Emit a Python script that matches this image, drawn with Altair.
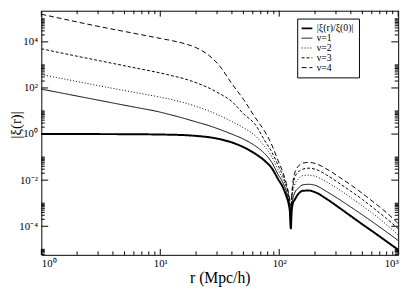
import altair as alt
import pandas as pd

# log10(r) sample positions (r in Mpc/h)
log_r = [0, 0.25, 0.5, 0.75, 1.0, 1.1, 1.2, 1.3, 1.4, 1.5, 1.6, 1.7, 1.8, 1.88, 1.94, 1.99,
         2.03, 2.06, 2.08, 2.09, 2.097, 2.104, 2.115, 2.13, 2.16, 2.2, 2.25, 2.3,
         2.4, 2.5, 2.6, 2.7, 2.8, 2.9, 3.0]

# log10 |xi|
xi0 = [0, 0, -0.002, -0.006, -0.02, -0.03, -0.045, -0.08, -0.13, -0.22, -0.36, -0.57, -0.86,
       -1.17, -1.5, -1.95, -2.3, -2.7, -3.05, -3.4, -4.1, -3.4, -3.0, -2.85, -2.6,
       -2.46, -2.45, -2.52, -2.82, -3.18, -3.55, -3.92, -4.28, -4.65, -5.02]
nu1 = [1.95, 1.7, 1.45, 1.2, 0.95, 0.82, 0.68, 0.53, 0.38, 0.2, 0.0, -0.22, -0.52,
       -0.86, -1.25, -1.75, -2.1, -2.5, -2.9, -3.2, -4.1, -3.2, -2.8, -2.55, -2.35,
       -2.2, -2.18, -2.22, -2.5, -2.82, -3.16, -3.51, -3.87, -4.24, -4.62]
nu2 = [2.58, 2.33, 2.08, 1.84, 1.6, 1.49, 1.36, 1.2, 1.02, 0.8, 0.55, 0.27, -0.08,
       -0.55, -1.0, -1.55, -1.95, -2.35, -2.8, -3.1, -4.1, -3.0, -2.5, -2.2, -1.95,
       -1.8, -1.78, -1.83, -2.08, -2.4, -2.75, -3.12, -3.5, -3.92, -4.38]
nu3 = [3.7, 3.43, 3.17, 2.91, 2.65, 2.53, 2.4, 2.23, 2.02, 1.75, 1.42, 0.88, 0.4,
       -0.3, -0.8, -1.35, -1.8, -2.25, -2.7, -3.0, -4.1, -2.9, -2.3, -1.9, -1.65,
       -1.52, -1.48, -1.52, -1.78, -2.12, -2.47, -2.84, -3.24, -3.66, -4.1]
nu4 = [5.2, 4.92, 4.65, 4.4, 4.15, 4.05, 3.93, 3.75, 3.45, 2.95, 2.2, 1.5, 0.7,
       0.1, -0.5, -1.15, -1.65, -2.15, -2.6, -2.9, -4.1, -2.8, -2.1, -1.7, -1.4,
       -1.26, -1.23, -1.27, -1.52, -1.85, -2.2, -2.58, -2.98, -3.4, -3.88]

series_names = ["|ξ(r)/ξ(0)|", "ν=1", "ν=2", "ν=3", "ν=4"]
series_vals = [xi0, nu1, nu2, nu3, nu4]
y_title = "|ξ(r)|"
x_title = "r (Mpc/h)"

x_major = [1, 10, 100, 1000]
x_minor = [j * 10 ** k for k in range(0, 3) for j in range(2, 10)]
y_major = [1e-4, 1e-2, 1, 1e2, 1e4]
y_domain = [5.75e-6, 2.24e5]
y_minor = [j * 10.0 ** (2 * m) for m in range(-3, 3) for j in range(2, 11)]
y_minor = [v for v in y_minor if y_domain[0] <= v <= y_domain[1]]

rows = []
for name, vals in zip(series_names, series_vals):
    for lr, lv in zip(log_r, vals):
        rows.append({"r": 10 ** lr, "xi": 10 ** lv, "series": name})
df = pd.DataFrame(rows)

W, H = 364, 249
FONT = "Liberation Serif"
THICK = series_names[0]

xscale = alt.Scale(type="log", domain=[1, 1000], nice=False)
yscale = alt.Scale(type="log", domain=y_domain, nice=False)

x_lab = ("datum.value < 5 ? '10⁰' : datum.value < 50 ? '10¹' : "
         "datum.value < 500 ? '10²' : '10³'")
y_lab = ("datum.value < 0.001 ? '10⁻⁴' : datum.value < 0.1 ? '10⁻²' : "
         "datum.value < 10 ? '10⁰' : datum.value < 1000 ? '10²' : '10⁴'")

xaxis = alt.Axis(values=x_major, labelExpr=x_lab, ticks=False, domain=False,
                 grid=False, labelPadding=3, labelFontSize=11,
                 title=x_title, titleFontSize=16, titlePadding=1)
yaxis = alt.Axis(values=y_major, labelExpr=y_lab, ticks=False, domain=False,
                 grid=False, labelPadding=4, labelFontSize=11, title=None)

leg = alt.Legend(title=None, orient="none", legendX=261, legendY=8,
                 symbolType="stroke", symbolSize=120,
                 symbolStrokeColor="black", fillColor="white",
                 strokeColor="black", padding=5, rowPadding=0,
                 labelFont=FONT, labelFontSize=10, labelOffset=5,
                 symbolStrokeWidth={"expr": "datum.value === '" + THICK + "' ? 2 : 1"})

lines = alt.Chart(df).mark_line(color="black", interpolate="monotone", clip=True).encode(
    x=alt.X("r:Q", scale=xscale, axis=xaxis),
    y=alt.Y("xi:Q", scale=yscale, axis=yaxis),
    strokeDash=alt.StrokeDash("series:N",
                              scale=alt.Scale(domain=series_names,
                                              range=[[1, 0], [1, 0], [1, 2], [3, 2], [5, 3]]),
                              legend=leg),
    strokeWidth=alt.condition(alt.datum.series == THICK, alt.value(2), alt.value(1)),
)


def xticks(vals, y0, y1):
    return alt.Chart(pd.DataFrame({"r": vals})).mark_rule(color="black", strokeWidth=1).encode(
        x=alt.X("r:Q", scale=xscale, axis=xaxis), y=alt.value(y0), y2=alt.value(y1))


def yticks(vals, x0, x1):
    return alt.Chart(pd.DataFrame({"xi": vals})).mark_rule(color="black", strokeWidth=1).encode(
        y=alt.Y("xi:Q", scale=yscale, axis=yaxis), x=alt.value(x0), x2=alt.value(x1))


ytitle = alt.Chart(pd.DataFrame({"t": [y_title]})).mark_text(
    angle=270, font=FONT, fontSize=15, color="black", align="center", baseline="middle"
).encode(text="t:N", x=alt.value(-26), y=alt.value(H / 2 - 8))

layers = [
    lines,
    xticks(x_major, H, H - 6), xticks(x_minor, H, H - 3.5),
    xticks(x_major, 0, 6), xticks(x_minor, 0, 3.5),
    yticks(y_major, 0, 7), yticks(y_minor, 0, 3.5),
    yticks(y_major, W, W - 7), yticks(y_minor, W, W - 3.5),
    ytitle,
]

chart = alt.layer(*layers).properties(
    width=W, height=H,
    padding={"left": 34, "top": 0, "right": 9, "bottom": 30},
    autosize=alt.AutoSizeParams(type="none"),
).configure_view(stroke="black", strokeWidth=1).configure_axis(
    labelFont=FONT, titleFont=FONT, titleFontWeight="normal", labelColor="black",
    titleColor="black"
).configure_legend(labelColor="black")

chart.save("out.html", embed_options={"renderer": "svg", "actions": False})
